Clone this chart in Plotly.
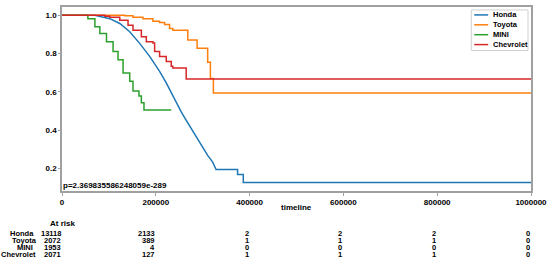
import plotly.graph_objects as go

# ---------------- data ----------------
series_names = ["Honda", "Toyota", "MINI", "Chevrolet"]

honda_t = [0, 70100, 101900, 123200, 144400, 165600, 186900, 208100, 222300, 232900,
           243600, 254200, 263300, 282400, 296600, 310600, 321300, 328500, 374400,
           374400, 386500, 386500, 1000000]
honda_s = [1.0, 1.0, 0.982, 0.957, 0.914, 0.853, 0.785, 0.707, 0.647, 0.595,
           0.543, 0.495, 0.457, 0.380, 0.319, 0.268, 0.233, 0.194, 0.194,
           0.168, 0.168, 0.127, 0.127]

toyota_t = [0, 133800, 151400, 172600, 193900, 208100, 218700, 229300, 236300,
            268200, 288100, 310600, 316400, 322800, 1000000]
toyota_s = [1.0, 0.997, 0.99, 0.982, 0.969, 0.962, 0.951, 0.931, 0.922,
            0.871, 0.827, 0.755, 0.67, 0.594, 0.594]

mini_t = [0, 34000, 55200, 70100, 80700, 94900, 108900, 119500, 130200, 144400,
          151400, 164100, 169200, 174800, 232900]
mini_s = [1.0, 1.0, 0.982, 0.94, 0.905, 0.862, 0.81, 0.767, 0.698, 0.655,
          0.604, 0.578, 0.543, 0.505, 0.505]

chev_t = [0, 91300, 101900, 123200, 140800, 151400, 169200, 179800, 193900, 197500,
          208100, 222300, 232900, 236300, 264800, 1000000]
chev_s = [1.0, 0.995, 0.99, 0.974, 0.948, 0.922, 0.888, 0.862, 0.855, 0.81,
          0.785, 0.759, 0.733, 0.724, 0.667, 0.667]

x_ticks = [0, 200000, 400000, 600000, 800000, 1000000]
x_tick_labels = ["0", "200000", "400000", "600000", "800000", "1000000"]
y_ticks = [0.2, 0.4, 0.6, 0.8, 1.0]
y_tick_labels = ["0.2", "0.4", "0.6", "0.8", "1.0"]

at_risk = {
    "Honda": [13118, 2133, 2, 2, 2, 0],
    "Toyota": [2072, 389, 1, 1, 1, 0],
    "MINI": [1953, 4, 0, 0, 0, 0],
    "Chevrolet": [2071, 127, 1, 1, 1, 0],
}
p_value_text = "p=2.369835586248059e-289"
x_title = "timeline"

# ---------------- styling ----------------
W, H = 552, 263
L, R, T, B = 62, 533, 5, 191          # plot area in pixels
colors = ["#1f77b4", "#ff7f0e", "#2ca02c", "#d62728"]
shapes_mode = ["linear", "hv", "hv", "hv"]
FONT = "Liberation Sans"


def px_x(px):
    return (px - L) / (R - L)


def px_y(py):
    return (B - py) / (B - T)


fig = go.Figure()
all_t = [honda_t, toyota_t, mini_t, chev_t]
all_s = [honda_s, toyota_s, mini_s, chev_s]
for name, t, s, c, sh in zip(series_names, all_t, all_s, colors, shapes_mode):
    fig.add_trace(go.Scatter(x=t, y=s, mode="lines", name=name,
                             line=dict(color=c, width=1.5, shape=sh),
                             showlegend=False))

fig.update_layout(
    width=W, height=H,
    margin=dict(l=L, r=W - R, t=T, b=H - B),
    plot_bgcolor="white", paper_bgcolor="white",
    font=dict(family=FONT, size=8, color="black"),
)
fig.update_xaxes(range=[0, 1000000], tickvals=x_ticks, ticktext=x_tick_labels,
                 showgrid=False, zeroline=False, showline=True, mirror=True,
                 linecolor="#a0a0a0", linewidth=1.5, ticks="outside", ticklen=3,
                 tickcolor="#a0a0a0", tickfont=dict(size=8, weight="bold"))
fig.update_yaxes(range=[0.082, 1.043], tickvals=y_ticks, ticktext=y_tick_labels,
                 showgrid=False, zeroline=False, showline=True, mirror=True,
                 linecolor="#a0a0a0", linewidth=1.5, ticks="outside", ticklen=2,
                 tickcolor="#a0a0a0", tickfont=dict(size=8, weight="bold"))

annotations = []
shapes = []

# legend (manual, to get compact matplotlib-like spacing)
leg_left, leg_right, leg_top, leg_bot = 473, 530, 8, 49
shapes.append(dict(type="rect", xref="paper", yref="paper",
                   x0=px_x(leg_left), x1=px_x(leg_right),
                   y0=px_y(leg_bot), y1=px_y(leg_top),
                   line=dict(color="#d0d0d0", width=1), fillcolor="white",
                   layer="above"))
for i, (name, c) in enumerate(zip(series_names, colors)):
    yy = 13 + i * 10
    shapes.append(dict(type="line", xref="paper", yref="paper",
                       x0=px_x(476), x1=px_x(490), y0=px_y(yy), y1=px_y(yy),
                       line=dict(color=c, width=1.5), layer="above"))
    annotations.append(dict(text=name, xref="paper", yref="paper",
                            x=px_x(494), y=px_y(yy), xanchor="left", yanchor="middle",
                            showarrow=False, font=dict(size=7.5, weight="bold"),
                            borderpad=0))

# p-value
annotations.append(dict(text=p_value_text, xref="paper", yref="paper",
                        x=px_x(62), y=px_y(185), xanchor="left", yanchor="middle",
                        showarrow=False, font=dict(size=8, weight="bold"), borderpad=0))
# x title
annotations.append(dict(text=x_title, xref="paper", yref="paper",
                        x=px_x(298), y=px_y(208), xanchor="center", yanchor="middle",
                        showarrow=False, font=dict(size=8, weight="bold"), borderpad=0))
# at risk header
annotations.append(dict(text="At risk", xref="paper", yref="paper",
                        x=px_x(63), y=px_y(224), xanchor="center", yanchor="middle",
                        showarrow=False, font=dict(size=8, weight="bold"), borderpad=0))

row_y = [233.7, 240.8, 248.0, 255.3]
name_pos = [(35, "right"), (38, "right"), (34, "right"), (0, "left")]
for i, name in enumerate(series_names):
    nx, anchor = name_pos[i]
    annotations.append(dict(text=name, xref="paper", yref="paper",
                            x=px_x(nx), y=px_y(row_y[i]),
                            xanchor=anchor, yanchor="middle", showarrow=False,
                            font=dict(size=7.5, weight="bold"), borderpad=0))
    for xv, cnt in zip(x_ticks, at_risk[name]):
        annotations.append(dict(text=str(cnt), xref="x", yref="paper",
                                x=xv, y=px_y(row_y[i]),
                                xanchor="right", yanchor="middle", showarrow=False,
                                font=dict(size=7.5, weight="bold"), borderpad=0))

fig.update_layout(annotations=annotations, shapes=shapes)
fig.write_html("out.html", config={"displayModeBar": False},
               post_script="document.body.style.margin='0px';document.body.style.overflow='hidden';")
